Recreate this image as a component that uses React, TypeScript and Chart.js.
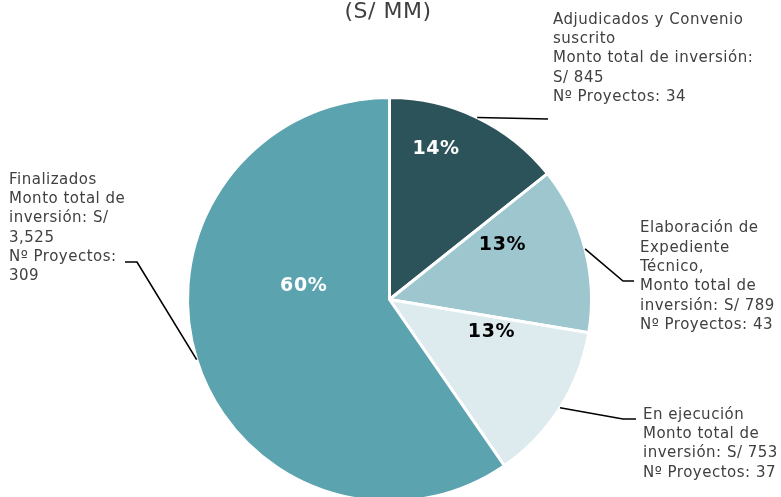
import React, { useEffect, useRef } from "react";
import { Chart, registerables } from "chart.js";

Chart.register(...registerables);

const categories = [
  "Adjudicados y Convenio suscrito",
  "Elaboración de Expediente Técnico",
  "En ejecución",
  "Finalizados",
];
const montos = [845, 789, 753, 3525];
const proyectos = [34, 43, 37, 309];
const colors = ["#2C535A", "#9DC6CE", "#DDEBEE", "#5BA3AF"];
const pctColors = ["#FFFFFF", "#000000", "#000000", "#FFFFFF"];
const labelLines = [
  ["Adjudicados y Convenio", "suscrito", "Monto total de inversión:", "S/ 845", "Nº Proyectos: 34"],
  ["Elaboración de", "Expediente", "Técnico,", "Monto total de", "inversión: S/ 789", "Nº Proyectos: 43"],
  ["En ejecución", "Monto total de", "inversión: S/ 753", "Nº Proyectos: 37"],
  ["Finalizados", "Monto total de", "inversión: S/", "3,525", "Nº Proyectos:", "309"],
];
const titleText = "(S/ MM)";

// layout of annotations (positions, not data)
const pctPlacement = [
  { af: 0.334, rf: 0.78 },
  { af: 0.27, rf: 0.62 },
  { af: 0.18, rf: 0.53 },
  { af: 0.623, rf: 0.43 },
];
const textBlocks = [
  { x: 553, y: 20 },
  { x: 640, y: 228.5 },
  { x: 643, y: 415 },
  { x: 9, y: 180 },
];
const leaderPts = [
  [[548, 119]],
  [[623, 281], [634, 281]],
  [[623, 419], [636, 419]],
  [[137, 262], [125, 262]],
];

const FONT = "'DejaVu Sans', Verdana, sans-serif";

const annotPlugin = {
  id: "annot",
  afterDraw(chart: any) {
    const ctx = chart.ctx;
    const meta = chart.getDatasetMeta(0);
    const total = montos.reduce((a, b) => a + b, 0);
    ctx.save();
    // title
    ctx.fillStyle = "#404040";
    ctx.font = `22px ${FONT}`;
    (ctx as any).letterSpacing = "0.5px";
    ctx.textAlign = "center";
    ctx.textBaseline = "middle";
    ctx.fillText(titleText, 388, 12);

    meta.data.forEach((arc: any, i: number) => {
      const { x, y, startAngle, endAngle, outerRadius } = arc.getProps(
        ["x", "y", "startAngle", "endAngle", "outerRadius"],
        true
      );
      // percentage label
      const p = pctPlacement[i];
      const a = startAngle + p.af * (endAngle - startAngle);
      const r = p.rf * outerRadius;
      ctx.font = `bold 19px ${FONT}`;
      (ctx as any).letterSpacing = "0.6px";
      ctx.fillStyle = pctColors[i];
      ctx.textAlign = "center";
      ctx.textBaseline = "middle";
      ctx.fillText(Math.round((montos[i] / total) * 100) + "%", x + Math.cos(a) * r, y + Math.sin(a) * r);

      // leader line
      const mid = (startAngle + endAngle) / 2;
      ctx.beginPath();
      ctx.strokeStyle = "#000000";
      ctx.lineWidth = 1.6;
      ctx.moveTo(x + Math.cos(mid) * outerRadius, y + Math.sin(mid) * outerRadius);
      leaderPts[i].forEach(([px, py]) => ctx.lineTo(px, py));
      ctx.stroke();

      // text block
      ctx.font = `15px ${FONT}`;
      (ctx as any).letterSpacing = "0.5px";
      ctx.fillStyle = "#404040";
      ctx.textAlign = "left";
      ctx.textBaseline = "middle";
      const tb = textBlocks[i];
      labelLines[i].forEach((ln, k) => ctx.fillText(ln, tb.x, tb.y + k * 19.3));
    });
    ctx.restore();
  },
};

export default function App() {
  const ref = useRef<HTMLCanvasElement>(null);
  useEffect(() => {
    const chart = new Chart(ref.current!, {
      type: "pie",
      data: {
        labels: categories,
        datasets: [
          {
            data: montos,
            backgroundColor: colors,
            borderColor: "#FFFFFF",
            borderWidth: 3,
          },
        ],
      },
      options: {
        responsive: false,
        animation: false,
        layout: { padding: { top: 96, bottom: 7, left: 186, right: 188 } },
        plugins: {
          legend: { display: false },
          tooltip: { enabled: false },
          title: { display: false },
        },
      },
      plugins: [annotPlugin],
    } as any);
    return () => chart.destroy();
  }, []);
  return (
    <div style={{ position: "fixed", left: 0, top: 0, width: 781, height: 497, overflow: "hidden", background: "#fff" }}>
      <canvas ref={ref} width={781} height={510} style={{ width: 781, height: 510, display: "block" }} />
    </div>
  );
}
